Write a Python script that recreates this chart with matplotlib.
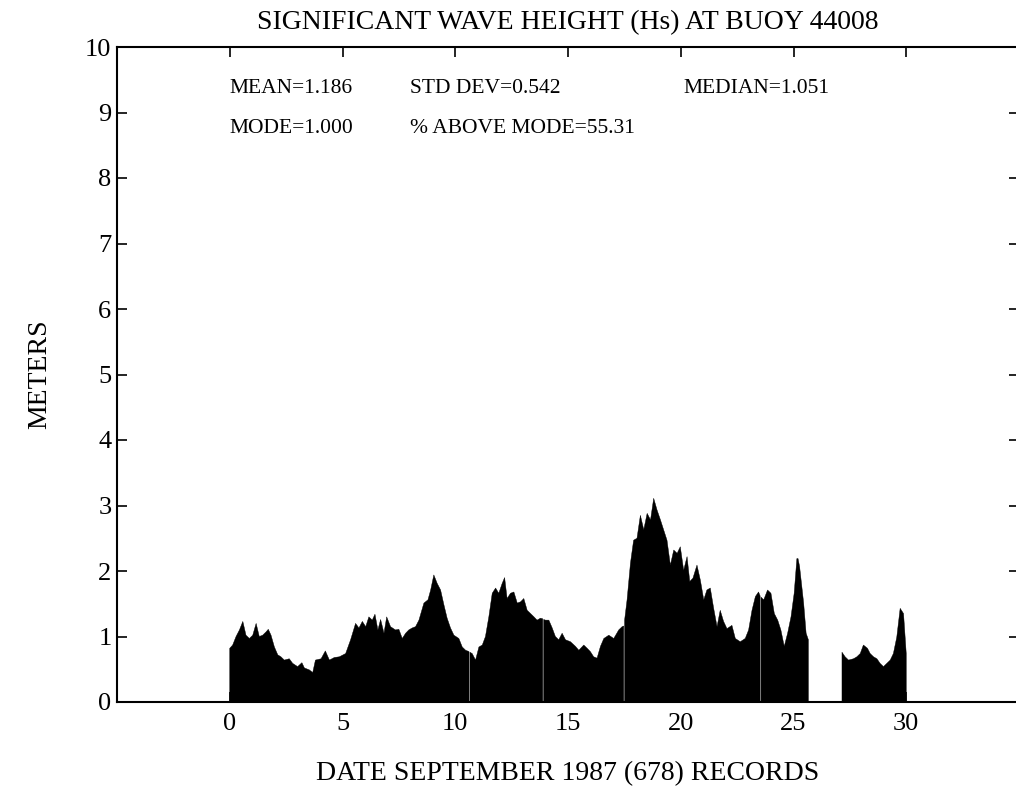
import numpy as np
import matplotlib
matplotlib.use("Agg")
import matplotlib.pyplot as plt

nan = float("nan")

# Day of September 1987 (0 = start) and significant wave height (m); NaN marks missing records
days = [
    0.00, 0.13, 0.28, 0.43, 0.58, 0.72, 0.87, 1.02, 1.17, 1.31, 1.46, 1.61, 1.71, 1.83, 1.98,
    2.13, 2.27, 2.42, 2.64, 2.79, 3.01, 3.20, 3.31, 3.53, 3.68, 3.80, 4.05, 4.24, 4.42, 4.64,
    4.86, 5.14, 5.36, 5.58, 5.73, 5.88, 6.03, 6.17, 6.32, 6.44, 6.57, 6.69, 6.84, 6.96, 7.13,
    7.35, 7.50, 7.65, 7.80, 7.94, 8.09, 8.24, 8.39, 8.61, 8.79, 8.91, 9.05, 9.20, 9.35, 9.50,
    9.64, 9.79, 9.94, 10.16, 10.31, 10.46, 10.61, 10.63, 10.65, 10.75, 10.90, 11.05, 11.20,
    11.34, 11.49, 11.64, 11.79, 11.93, 12.08, 12.19, 12.30, 12.45, 12.60, 12.75, 12.90, 13.04,
    13.19, 13.34, 13.49, 13.63, 13.78, 13.88, 13.90, 13.92, 14.00, 14.15, 14.30, 14.44, 14.59,
    14.74, 14.89, 15.11, 15.33, 15.48, 15.70, 15.85, 15.99, 16.14, 16.29, 16.44, 16.59, 16.81,
    17.03, 17.25, 17.40, 17.47, 17.49, 17.51, 17.62, 17.77, 17.91, 18.06, 18.21, 18.36, 18.51,
    18.66, 18.80, 18.95, 19.10, 19.24, 19.39, 19.54, 19.69, 19.84, 19.98, 20.13, 20.28, 20.40,
    20.54, 20.72, 20.87, 21.02, 21.16, 21.31, 21.46, 21.61, 21.75, 21.90, 22.05, 22.27, 22.42,
    22.64, 22.86, 23.01, 23.16, 23.31, 23.45, 23.52, 23.54, 23.56, 23.68, 23.85, 24.00, 24.15,
    24.30, 24.44, 24.59, 24.74, 24.89, 25.03, 25.15, 25.20, 25.27, 25.37, 25.45, 25.56, 25.66,
    26.40,
    27.15, 27.29, 27.44, 27.66, 27.81, 27.96, 28.10, 28.28, 28.40, 28.55, 28.70, 28.84, 28.99,
    29.14, 29.29, 29.43, 29.58, 29.73, 29.88, 30.00,
]
hs = [
    0.82, 0.87, 1.00, 1.10, 1.23, 1.02, 0.97, 1.02, 1.20, 1.00, 1.02, 1.07, 1.11, 1.02, 0.84,
    0.72, 0.69, 0.64, 0.66, 0.59, 0.54, 0.60, 0.52, 0.49, 0.45, 0.64, 0.66, 0.78, 0.64, 0.68,
    0.69, 0.74, 0.95, 1.20, 1.13, 1.23, 1.15, 1.30, 1.25, 1.34, 1.10, 1.26, 1.05, 1.30, 1.15,
    1.10, 1.11, 0.97, 1.05, 1.10, 1.13, 1.15, 1.25, 1.51, 1.56, 1.71, 1.94, 1.81, 1.71, 1.48,
    1.28, 1.13, 1.02, 0.97, 0.84, 0.79, 0.77, nan, 0.76, 0.74, 0.64, 0.84, 0.87,
    1.00, 1.30, 1.66, 1.74, 1.66, 1.81, 1.90, 1.58, 1.66, 1.68, 1.51, 1.53, 1.58,
    1.40, 1.35, 1.30, 1.25, 1.28, 1.27, nan, 1.26, 1.25, 1.25, 1.13, 1.00, 0.95,
    1.05, 0.95, 0.92, 0.85, 0.79, 0.87, 0.82, 0.77, 0.69, 0.67, 0.85, 0.97, 1.02,
    0.97, 1.10, 1.15, 1.16, nan, 1.25, 1.56, 2.12, 2.47, 2.50, 2.85, 2.63, 2.88,
    2.78, 3.11, 2.93, 2.78, 2.63, 2.47, 2.09, 2.32, 2.27, 2.37, 2.01, 2.22, 1.84,
    1.89, 2.09, 1.86, 1.56, 1.71, 1.74, 1.43, 1.15, 1.40, 1.23, 1.12, 1.17, 0.97,
    0.92, 0.97, 1.10, 1.40, 1.61, 1.68, 1.62, nan, 1.60, 1.56, 1.71, 1.66, 1.35,
    1.25, 1.10, 0.85, 1.05, 1.30, 1.66, 2.19, 2.19, 2.07, 1.76, 1.51, 1.05, 0.95,
    nan,
    0.76, 0.69, 0.64, 0.66, 0.69, 0.74, 0.87, 0.82, 0.74, 0.69, 0.66, 0.59, 0.54,
    0.59, 0.64, 0.74, 0.99, 1.43, 1.35, 0.74,
]

x_ticks = [0, 5, 10, 15, 20, 25, 30]
y_ticks = [0, 1, 2, 3, 4, 5, 6, 7, 8, 9, 10]

title = "SIGNIFICANT WAVE HEIGHT (Hs) AT BUOY 44008"
xlabel = "DATE SEPTEMBER 1987 (678) RECORDS"
ylabel = "METERS"
stats_row1 = [(0, "MEAN=1.186"), (8, "STD DEV=0.542"), (20.1, "MEDIAN=1.051")]
stats_row2 = [(0, "MODE=1.000"), (8, "% ABOVE MODE=55.31")]

plt.rcParams["font.family"] = ["Liberation Serif", "DejaVu Serif"]
fs_stats = 15.5
fs_label = 20
fs_tick = 19

fig = plt.figure(figsize=(10.16, 7.95), dpi=100)
ax = fig.add_axes([117 / 1016, 93 / 795, 902 / 1016, 655 / 795])

d = np.array(days, dtype=float)
h = np.array(hs, dtype=float)
ax.fill_between(d, 0, h, color="black", linewidth=0.3, edgecolor="black")

ax.set_xlim(-5, 35)
ax.set_ylim(0, 10)
ax.set_xticks(x_ticks)
ax.set_yticks(y_ticks)
ax.tick_params(direction="in", length=7, width=1.2, top=True, right=True,
               labelsize=fs_tick, colors="black")
ax.tick_params(axis="x", pad=8)
ax.tick_params(axis="y", pad=4)
for s in ax.spines.values():
    s.set_linewidth(1.5)

ax.set_title(title, fontsize=fs_label, pad=13)
ax.set_xlabel(xlabel, fontsize=fs_label, labelpad=19)
ax.set_ylabel(ylabel, fontsize=fs_label, labelpad=24)

for x, t in stats_row1:
    ax.text(x, 9.37, t, fontsize=fs_stats, ha="left", va="center")
for x, t in stats_row2:
    ax.text(x, 8.76, t, fontsize=fs_stats, ha="left", va="center")

fig.savefig("out.png", dpi=100)
